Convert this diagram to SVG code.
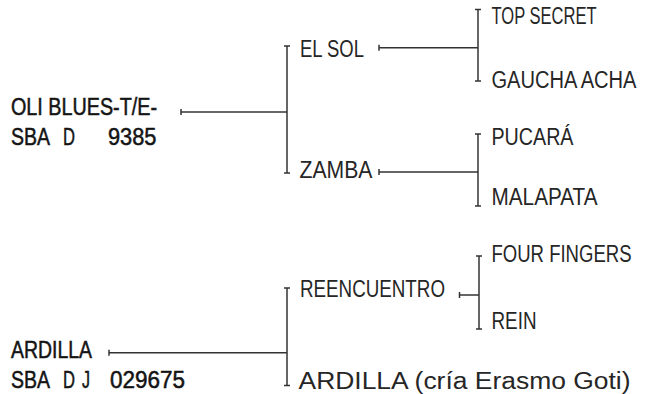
<svg xmlns="http://www.w3.org/2000/svg" width="646" height="394" viewBox="0 0 646 394">
<style>
  text { font-family: "Liberation Sans", Arial, sans-serif; font-size: 23px; fill: #262626; }
  .root text { fill: #141414; stroke: #141414; stroke-width: 0.5; }
  .conn path { fill: none; stroke: #333; stroke-width: 1.5; }
</style>
<defs>
  <marker id="tick" markerUnits="userSpaceOnUse" markerWidth="10" markerHeight="10" refX="5" refY="5" orient="auto" viewBox="0 0 10 10">
    <path d="M5,2 L5,8" stroke="#333" stroke-width="1.5" fill="none"/>
  </marker>
</defs>
<rect width="646" height="394" fill="#ffffff"/>
<g id="connectors" class="conn">
  <path d="M181,112 H287" marker-start="url(#tick)"/>
  <path d="M287,46 V173" marker-start="url(#tick)" marker-end="url(#tick)"/>
  <path d="M379,47.7 H478" marker-start="url(#tick)"/>
  <path d="M478,9.5 V81" marker-start="url(#tick)" marker-end="url(#tick)"/>
  <path d="M379,172 H478" marker-start="url(#tick)"/>
  <path d="M478,134 V206" marker-start="url(#tick)" marker-end="url(#tick)"/>
  <path d="M109,352.7 H287" marker-start="url(#tick)"/>
  <path d="M287,288 V385.5" marker-start="url(#tick)" marker-end="url(#tick)"/>
  <path d="M459.5,295 H479" marker-start="url(#tick)"/>
  <path d="M479,256 V329" marker-start="url(#tick)" marker-end="url(#tick)"/>
</g>
<g id="n_oli" class="root">
  <text x="11" y="115" textLength="146" lengthAdjust="spacingAndGlyphs">OLI BLUES-T/E-</text>
  <text x="11" y="144.5" textLength="39" lengthAdjust="spacingAndGlyphs">SBA</text>
  <text x="63" y="144.5" textLength="12" lengthAdjust="spacingAndGlyphs">D</text>
  <text x="108" y="144.5" textLength="48.5" lengthAdjust="spacingAndGlyphs">9385</text>
</g>
<g id="n_elsol"><text x="300" y="57.3" textLength="64" lengthAdjust="spacingAndGlyphs">EL SOL</text></g>
<g id="n_topsecret"><text x="491.5" y="24" textLength="105" lengthAdjust="spacingAndGlyphs">TOP SECRET</text></g>
<g id="n_gaucha"><text transform="translate(491.5,87.7) scale(0.86,1)" x="0" y="0" textLength="168.6" lengthAdjust="spacingAndGlyphs">GAUCHA ACHA</text></g>
<g id="n_zamba"><text x="299.5" y="177.7" textLength="73" lengthAdjust="spacingAndGlyphs">ZAMBA</text></g>
<g id="n_pucara"><text x="491.5" y="145" textLength="82" lengthAdjust="spacingAndGlyphs">PUCARÁ</text></g>
<g id="n_malapata"><text x="491.5" y="205" textLength="106" lengthAdjust="spacingAndGlyphs">MALAPATA</text></g>
<g id="n_ardilla" class="root">
  <text x="11" y="358.3" textLength="81" lengthAdjust="spacingAndGlyphs">ARDILLA</text>
  <text x="11" y="388" textLength="39" lengthAdjust="spacingAndGlyphs">SBA</text>
  <text x="63" y="388" textLength="12" lengthAdjust="spacingAndGlyphs">D</text>
  <text x="82" y="388" textLength="8" lengthAdjust="spacingAndGlyphs">J</text>
  <text x="110" y="388" textLength="75" lengthAdjust="spacingAndGlyphs">029675</text>
</g>
<g id="n_reencuentro"><text x="300" y="297.3" textLength="145" lengthAdjust="spacingAndGlyphs">REENCUENTRO</text></g>
<g id="n_four"><text transform="translate(491.5,261.7) scale(0.806,1)" x="0" y="0" textLength="173.7" lengthAdjust="spacingAndGlyphs">FOUR FINGERS</text></g>
<g id="n_rein"><text x="491.5" y="329" textLength="45" lengthAdjust="spacingAndGlyphs">REIN</text></g>
<g id="n_ardilla2"><text x="298.5" y="388.5" textLength="332" lengthAdjust="spacingAndGlyphs">ARDILLA (cría Erasmo Goti)</text></g>
</svg>
